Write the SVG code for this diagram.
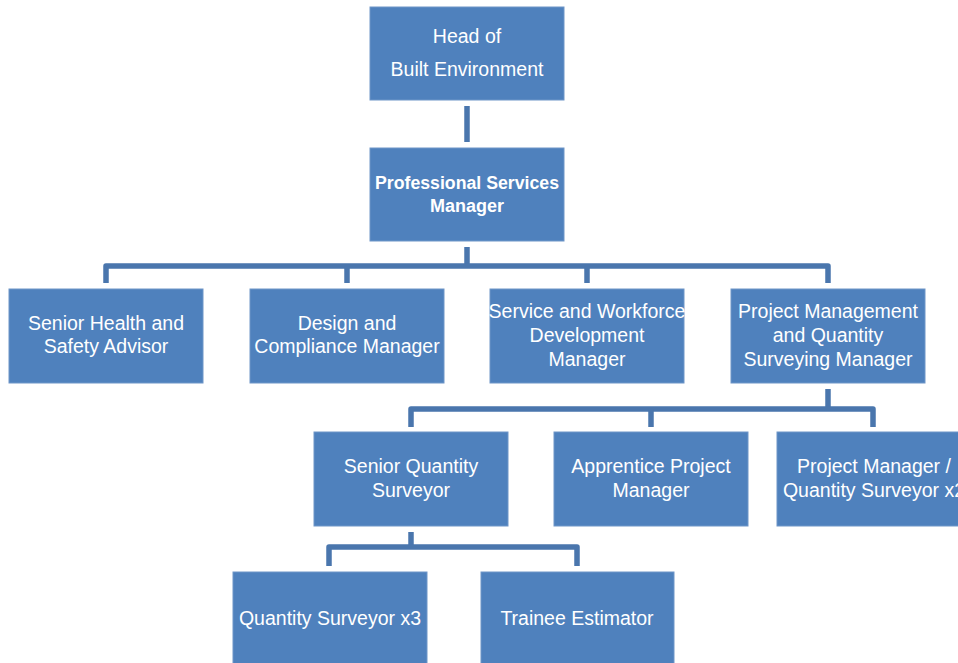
<svg xmlns="http://www.w3.org/2000/svg" width="958" height="663" viewBox="0 0 958 663">
  <style>
    .box { fill: #4F81BD; stroke: #6F96C8; stroke-width: 1; }
    .lbl { font-family: "Liberation Sans", Arial, sans-serif; font-size: 19.5px; fill: #FFFFFF; text-anchor: middle; }
    .bold { font-weight: bold; font-size: 18px; }
    .wire { fill: none; stroke: #4A76AD; stroke-width: 5.5; stroke-linejoin: round; stroke-linecap: butt; }
  </style>
  <rect width="958" height="663" fill="#FFFFFF"/>

  <!-- connectors -->
  <g id="connectors">
    <path class="wire" d="M467,106 V142"/>
    <path class="wire" d="M467,247 V266"/>
    <path class="wire" d="M106,283 V266 H828 V283"/>
    <path class="wire" d="M347,266 V283"/>
    <path class="wire" d="M587,266 V283"/>
    <path class="wire" d="M828,389 V409"/>
    <path class="wire" d="M411,427 V409 H873 V427"/>
    <path class="wire" d="M651,409 V427"/>
    <path class="wire" d="M411,532 V547"/>
    <path class="wire" d="M329,566 V547 H577 V566"/>
  </g>

  <!-- top level -->
  <g id="head">
    <rect class="box" x="370" y="7" width="194" height="93"/>
    <text class="lbl" x="467" y="43">Head of</text>
    <text class="lbl" x="467" y="76">Built Environment</text>
  </g>
  <g id="psm">
    <rect class="box" x="370" y="148" width="194" height="93"/>
    <text class="lbl bold" x="467" y="189" textLength="184" lengthAdjust="spacingAndGlyphs">Professional Services</text>
    <text class="lbl bold" x="467" y="212">Manager</text>
  </g>

  <!-- second level -->
  <g id="health-safety">
    <rect class="box" x="9" y="289" width="194" height="94"/>
    <text class="lbl" x="106" y="330">Senior Health and</text>
    <text class="lbl" x="106" y="353">Safety Advisor</text>
  </g>
  <g id="design-compliance">
    <rect class="box" x="250" y="289" width="194" height="94"/>
    <text class="lbl" x="347" y="330">Design and</text>
    <text class="lbl" x="347" y="353">Compliance Manager</text>
  </g>
  <g id="service-workforce">
    <rect class="box" x="490" y="289" width="194" height="94"/>
    <text class="lbl" x="587" y="318">Service and Workforce</text>
    <text class="lbl" x="587" y="342">Development</text>
    <text class="lbl" x="587" y="366">Manager</text>
  </g>
  <g id="pm-qs-manager">
    <rect class="box" x="731" y="289" width="194" height="94"/>
    <text class="lbl" x="828" y="318">Project Management</text>
    <text class="lbl" x="828" y="342">and Quantity</text>
    <text class="lbl" x="828" y="366">Surveying Manager</text>
  </g>

  <!-- third level -->
  <g id="senior-qs">
    <rect class="box" x="314" y="432" width="194" height="94"/>
    <text class="lbl" x="411" y="473">Senior Quantity</text>
    <text class="lbl" x="411" y="497">Surveyor</text>
  </g>
  <g id="apprentice-pm">
    <rect class="box" x="554" y="432" width="194" height="94"/>
    <text class="lbl" x="651" y="473">Apprentice Project</text>
    <text class="lbl" x="651" y="497">Manager</text>
  </g>
  <g id="pm-qs">
    <rect class="box" x="777" y="432" width="194" height="94"/>
    <text class="lbl" x="874" y="473">Project Manager /</text>
    <text class="lbl" x="874" y="497">Quantity Surveyor x2</text>
  </g>

  <!-- fourth level -->
  <g id="qs">
    <rect class="box" x="233" y="572" width="194" height="100"/>
    <text class="lbl" x="330" y="625">Quantity Surveyor x3</text>
  </g>
  <g id="trainee-estimator">
    <rect class="box" x="481" y="572" width="193" height="100"/>
    <text class="lbl" x="577" y="625">Trainee Estimator</text>
  </g>
</svg>
